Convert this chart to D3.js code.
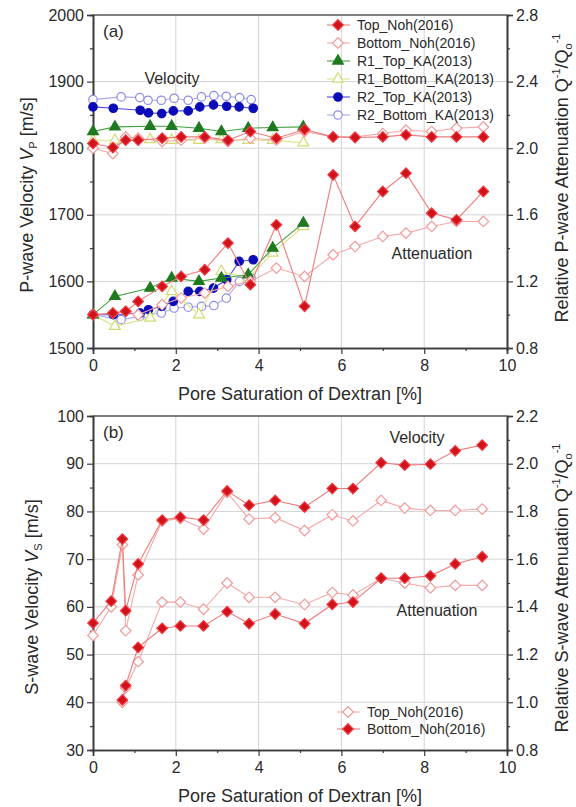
<!DOCTYPE html>
<html>
<head>
<meta charset="utf-8">
<script src="https://cdn.jsdelivr.net/npm/d3@7"></script>
<style>
  body { margin: 0; background: #fff; }
  text { font-family: "Liberation Sans", Arial, sans-serif; fill: #2a2a2a; }
</style>
</head>
<body>
<div id="chart-area"></div>
<script>
// ---- panel (a) data: P-wave ----
var satNohA = [0, 0.48, 0.79, 1.09, 1.67, 2.13, 2.7, 3.26, 3.8, 4.43, 5.11, 5.8, 6.33, 7.0, 7.56, 8.18, 8.78, 9.43]
var topNohVelA = [1807, 1801, 1812, 1812, 1815, 1817, 1817, 1812, 1825, 1815, 1828, 1817, 1816, 1817, 1820, 1817, 1817, 1817]
var bottomNohVelA = [1800, 1792, 1817, 1815, 1810, 1812, 1815, 1810, 1815, 1812, 1825, 1817, 1817, 1822, 1827, 1825, 1830, 1832]
var topNohAttA = [1.0, 1.01, 1.02, 1.08, 1.17, 1.23, 1.27, 1.43, 1.18, 1.54, 1.05, 1.84, 1.53, 1.74, 1.85, 1.61, 1.57, 1.74]
var bottomNohAttA = [1.0, 1.01, 1.02, 1.0, 1.06, 1.1, 1.13, 1.17, 1.2, 1.28, 1.23, 1.36, 1.41, 1.47, 1.49, 1.53, 1.56, 1.56]

var satR1 = [0, 0.53, 1.38, 1.9, 2.56, 3.1, 3.75, 4.34, 5.08]
var r1TopVel = [1825, 1832, 1833, 1833, 1830, 1825, 1830, 1831, 1832]
var r1BottomVel = [1812, 1812, 1813, 1812, 1812, 1813, 1812, 1812, 1808]
var r1TopAtt = [1.0, 1.11, 1.16, 1.22, 1.2, 1.22, 1.24, 1.4, 1.55]
var r1BottomAtt = [1.0, 0.93, 0.98, 1.14, 1.0, 1.26, 1.22, 1.37, 1.53]

var satR2Top = [0, 0.49, 1.14, 1.34, 1.66, 1.94, 2.3, 2.58, 2.91, 3.23, 3.53, 3.87]
var r2TopVel = [1862, 1860, 1857, 1853, 1852, 1856, 1856, 1862, 1865, 1863, 1862, 1860]
var r2TopAtt = [1.0, 1.0, 1.01, 1.03, 1.05, 1.08, 1.14, 1.14, 1.16, 1.21, 1.32, 1.33]
var satR2Bottom = [0, 0.68, 1.13, 1.33, 1.65, 1.96, 2.3, 2.62, 2.92, 3.22, 3.54, 3.82]
var r2BottomVel = [1873, 1877, 1876, 1872, 1872, 1875, 1872, 1877, 1879, 1878, 1876, 1873]
var r2BottomAtt = [1.0, 0.97, 0.99, 1.0, 1.01, 1.04, 1.045, 1.05, 1.055, 1.1, 1.2, 1.22]

// ---- panel (b) data: S-wave ----
var satVelB = [0, 0.44, 0.71, 0.79, 1.09, 1.67, 2.11, 2.67, 3.24, 3.77, 4.4, 5.11, 5.78, 6.28, 6.96, 7.53, 8.15, 8.75, 9.4]
var topNohVelB = [54, 60, 73, 55, 66.7, 78, 78.5, 76.3, 84, 78.4, 78.7, 76, 79.3, 78, 82.3, 80.7, 80.2, 80.2, 80.5]
var bottomNohVelB = [56.6, 61.2, 74.2, 59.2, 69, 78.2, 78.8, 78.2, 84.3, 81.3, 82.3, 80.9, 84.8, 84.8, 90.2, 89.7, 89.9, 92.7, 93.9]
var satAttB = [0.71, 0.79, 1.09, 1.67, 2.11, 2.67, 3.24, 3.77, 4.4, 5.11, 5.78, 6.28, 6.96, 7.53, 8.15, 8.75, 9.4]
var topNohAttB = [1.0, 1.06, 1.17, 1.42, 1.42, 1.39, 1.5, 1.44, 1.44, 1.41, 1.46, 1.45, 1.52, 1.5, 1.48, 1.49, 1.49]
var bottomNohAttB = [1.01, 1.07, 1.23, 1.31, 1.32, 1.32, 1.38, 1.33, 1.37, 1.33, 1.41, 1.42, 1.52, 1.52, 1.53, 1.58, 1.61]

// ticks
var xTicks = [0, 2, 4, 6, 8, 10]
var vpTicks = [1500, 1600, 1700, 1800, 1900, 2000]
var qpTicks = [0.8, 1.2, 1.6, 2.0, 2.4, 2.8]
var vsTicks = [30, 40, 50, 60, 70, 80, 90, 100]
var qsTicks = [0.8, 1.0, 1.2, 1.4, 1.6, 1.8, 2.0, 2.2]

var width = 576
var height = 807
var left = 93, right = 507

var svg = d3.select("#chart-area")
  .append("svg")
  .attr("width", width)
  .attr("height", height)

// marker styles
var sTopNoh = {shape: "diamond", fill: "#d0121c", stroke: "#f03a40", line: "#f07a7a"}
var sBotNoh = {shape: "diamond", fill: "#fff", stroke: "#f29a9a", line: "#f4a8a8"}
var sR1Top = {shape: "triangle", fill: "#1f7a1f", stroke: "#1f7a1f", line: "#3fa03f"}
var sR1Bot = {shape: "triangle", fill: "#fff", stroke: "#d2db72", line: "#dde38a"}
var sR2Top = {shape: "circle", fill: "#0b0bb8", stroke: "#0b0bb8", line: "#4a4ae0"}
var sR2Bot = {shape: "circle", fill: "#fff", stroke: "#8c8ce8", line: "#a8a8f0"}

function symbolPath(shape) {
  if (shape == "diamond") return d3.symbol().type(d3.symbolSquare).size(56)()
  if (shape == "triangle") return d3.symbol().type(d3.symbolTriangle).size(50)()
  return d3.symbol().type(d3.symbolCircle).size(56)()
}

function drawSeries(g, xs, ys, x, y, st) {
  var pts = xs.map((d, i) => [d, ys[i]])
  g.append("path")
    .attr("d", d3.line().x(d => x(d[0])).y(d => y(d[1]))(pts))
    .attr("fill", "none")
    .attr("stroke", st.line)
    .attr("stroke-width", 1.1)
  g.selectAll(null)
    .data(pts)
    .enter()
    .append("path")
    .attr("d", symbolPath(st.shape))
    .attr("transform", d => `translate(${x(d[0])},${y(d[1])})` + (st.shape == "diamond" ? " rotate(45)" : ""))
    .attr("fill", st.fill)
    .attr("stroke", st.stroke)
    .attr("stroke-width", 1.2)
}

function legendRow(g, lx, ly, st, label) {
  g.append("line")
    .attr("x1", lx - 11).attr("x2", lx + 12)
    .attr("y1", ly).attr("y2", ly)
    .attr("stroke", st.line).attr("stroke-width", 1.1)
  g.append("path")
    .attr("d", symbolPath(st.shape))
    .attr("transform", `translate(${lx},${ly})` + (st.shape == "diamond" ? " rotate(45)" : ""))
    .attr("fill", st.fill)
    .attr("stroke", st.stroke)
    .attr("stroke-width", 1.2)
  g.append("text")
    .attr("x", lx + 19)
    .attr("y", ly + 5)
    .attr("font-size", "14px")
    .text(label)
}

function drawFrame(top, bottom, yLeft, yRight, leftTicks, rightTicks, leftMinorStep, rightMinorStep, fmtR) {
  var x = d3.scaleLinear().domain([0, 10]).range([left, right])
  var g = svg.append("g")

  // grid
  g.selectAll(".gx").data([2, 4, 6, 8]).enter().append("line")
    .attr("x1", d => x(d)).attr("x2", d => x(d))
    .attr("y1", top).attr("y2", bottom)
    .attr("stroke", "#d4d4d4").attr("stroke-width", 1)
  g.selectAll(".gy").data(leftTicks.slice(1, -1)).enter().append("line")
    .attr("x1", left).attr("x2", right)
    .attr("y1", d => yLeft(d)).attr("y2", d => yLeft(d))
    .attr("stroke", "#d4d4d4").attr("stroke-width", 1)

  // top border
  g.append("line")
    .attr("x1", left).attr("x2", right).attr("y1", top).attr("y2", top)
    .attr("stroke", "#555").attr("stroke-width", 1.5)

  var minorX = d3.range(1, 10, 2)
  var lmin = yLeft.domain()
  var rmin = yRight.domain()
  var leftMinor = d3.range(lmin[0] + leftMinorStep, lmin[1], leftMinorStep * 2)
  var rightMinor = d3.range(0, 20).map(i => rmin[0] + rightMinorStep * (2 * i + 1)).filter(v => v < rmin[1])

  // bottom axis
  var bottomAxis = d3.axisBottom(x).tickValues(xTicks).tickSize(6).tickFormat(d3.format("d"))
  g.append("g").attr("class", "bottom axis")
    .attr("transform", `translate(0, ${bottom})`)
    .call(bottomAxis)
  g.append("g").attr("transform", `translate(0, ${bottom})`)
    .call(d3.axisBottom(x).tickValues(minorX).tickSize(3).tickFormat(""))

  // left axis
  g.append("g").attr("class", "left axis")
    .attr("transform", `translate(${left}, 0)`)
    .call(d3.axisLeft(yLeft).tickValues(leftTicks).tickSize(6).tickFormat(d3.format("d")))
  g.append("g").attr("transform", `translate(${left}, 0)`)
    .call(d3.axisLeft(yLeft).tickValues(leftMinor).tickSize(3).tickFormat(""))

  // right axis
  g.append("g").attr("class", "right axis")
    .attr("transform", `translate(${right}, 0)`)
    .call(d3.axisRight(yRight).tickValues(rightTicks).tickSize(6).tickFormat(fmtR))
  g.append("g").attr("transform", `translate(${right}, 0)`)
    .call(d3.axisRight(yRight).tickValues(rightMinor).tickSize(3).tickFormat(""))

  g.selectAll(".domain").attr("stroke", "#3a3a3a").attr("stroke-width", 1.6)
  g.selectAll(".tick line").attr("stroke", "#3a3a3a").attr("stroke-width", 1.2)
  g.selectAll(".tick text").attr("font-size", "16px").attr("fill", "#333")
    .style("font-family", "'Liberation Sans', Arial, sans-serif")
  g.selectAll(".bottom .tick text").attr("dy", "0.9em")
  return {g: g, x: x}
}

function yTitle(cx, cy, parts) {
  var t = svg.append("text")
    .attr("transform", `translate(${cx}, ${cy}) rotate(-90)`)
    .attr("text-anchor", "middle")
    .attr("font-size", "18px")
  parts.forEach(p => {
    var ts = t.append("tspan").text(p.t)
    if (p.dy) ts.attr("dy", p.dy)
    if (p.small) ts.attr("font-size", "11px")
    if (p.italic) ts.attr("font-style", "italic")
  })
}

// ================= panel (a) =================
var topA = 15, botA = 348
var yVp = d3.scaleLinear().domain([1500, 2000]).range([botA, topA])
var yQp = d3.scaleLinear().domain([0.8, 2.8]).range([botA, topA])
var pa = drawFrame(topA, botA, yVp, yQp, vpTicks, qpTicks, 50, 0.2, d3.format(".1f"))
var ga = svg.append("g")
var xa = pa.x

drawSeries(ga, satR2Bottom, r2BottomVel, xa, yVp, sR2Bot)
drawSeries(ga, satR2Top, r2TopVel, xa, yVp, sR2Top)
drawSeries(ga, satR1, r1BottomVel, xa, yVp, sR1Bot)
drawSeries(ga, satR1, r1TopVel, xa, yVp, sR1Top)
drawSeries(ga, satNohA, bottomNohVelA, xa, yVp, sBotNoh)
drawSeries(ga, satNohA, topNohVelA, xa, yVp, sTopNoh)

drawSeries(ga, satR2Bottom, r2BottomAtt, xa, yQp, sR2Bot)
drawSeries(ga, satR2Top, r2TopAtt, xa, yQp, sR2Top)
drawSeries(ga, satR1, r1BottomAtt, xa, yQp, sR1Bot)
drawSeries(ga, satR1, r1TopAtt, xa, yQp, sR1Top)
drawSeries(ga, satNohA, bottomNohAttA, xa, yQp, sBotNoh)
drawSeries(ga, satNohA, topNohAttA, xa, yQp, sTopNoh)

svg.append("text").attr("x", 103).attr("y", 37).attr("font-size", "17px").text("(a)")
svg.append("text").attr("x", 172).attr("y", 84).attr("text-anchor", "middle").attr("font-size", "16px").text("Velocity")
svg.append("text").attr("x", 432).attr("y", 259).attr("text-anchor", "middle").attr("font-size", "16px").text("Attenuation")

var legA = svg.append("g")
legendRow(legA, 338, 25, sTopNoh, "Top_Noh(2016)")
legendRow(legA, 338, 43, sBotNoh, "Bottom_Noh(2016)")
legendRow(legA, 338, 61, sR1Top, "R1_Top_KA(2013)")
legendRow(legA, 338, 79, sR1Bot, "R1_Bottom_KA(2013)")
legendRow(legA, 338, 97, sR2Top, "R2_Top_KA(2013)")
legendRow(legA, 338, 115, sR2Bot, "R2_Bottom_KA(2013)")

svg.append("text").attr("x", 300).attr("y", 400).attr("text-anchor", "middle")
  .attr("font-size", "18px").text("Pore Saturation of Dextran [%]")
yTitle(33, 195, [{t: "P-wave Velocity "}, {t: "V", italic: true}, {t: "P", small: true, dy: "4"}, {t: " [m/s]", dy: "-4"}])
yTitle(568, 178, [{t: "Relative P-wave Attenuation Q"}, {t: "-1", small: true, dy: "-8"}, {t: "/Q", dy: "8"},
  {t: "o", small: true, dy: "4"}, {t: "-1", small: true, dy: "-12"}])

// ================= panel (b) =================
var topB = 416, botB = 750
var yVs = d3.scaleLinear().domain([30, 100]).range([botB, topB])
var yQs = d3.scaleLinear().domain([0.8, 2.2]).range([botB, topB])
var pb = drawFrame(topB, botB, yVs, yQs, vsTicks, qsTicks, 5, 0.1, d3.format(".1f"))
var gb = svg.append("g")
var xb = pb.x

drawSeries(gb, satVelB, topNohVelB, xb, yVs, sBotNoh)
drawSeries(gb, satAttB, topNohAttB, xb, yQs, sBotNoh)
drawSeries(gb, satVelB, bottomNohVelB, xb, yVs, sTopNoh)
drawSeries(gb, satAttB, bottomNohAttB, xb, yQs, sTopNoh)

svg.append("text").attr("x", 103).attr("y", 438).attr("font-size", "17px").text("(b)")
svg.append("text").attr("x", 417).attr("y", 443).attr("text-anchor", "middle").attr("font-size", "16px").text("Velocity")
svg.append("text").attr("x", 437).attr("y", 616).attr("text-anchor", "middle").attr("font-size", "16px").text("Attenuation")

var legB = svg.append("g")
legendRow(legB, 348, 712, sBotNoh, "Top_Noh(2016)")
legendRow(legB, 348, 729, sTopNoh, "Bottom_Noh(2016)")

svg.append("text").attr("x", 300).attr("y", 802).attr("text-anchor", "middle")
  .attr("font-size", "18px").text("Pore Saturation of Dextran [%]")
yTitle(38, 597, [{t: "S-wave Velocity "}, {t: "V", italic: true}, {t: "S", small: true, dy: "4"}, {t: " [m/s]", dy: "-4"}])
yTitle(568, 588, [{t: "Relative S-wave Attenuation Q"}, {t: "-1", small: true, dy: "-8"}, {t: "/Q", dy: "8"},
  {t: "o", small: true, dy: "4"}, {t: "-1", small: true, dy: "-12"}])
</script>
</body>
</html>
